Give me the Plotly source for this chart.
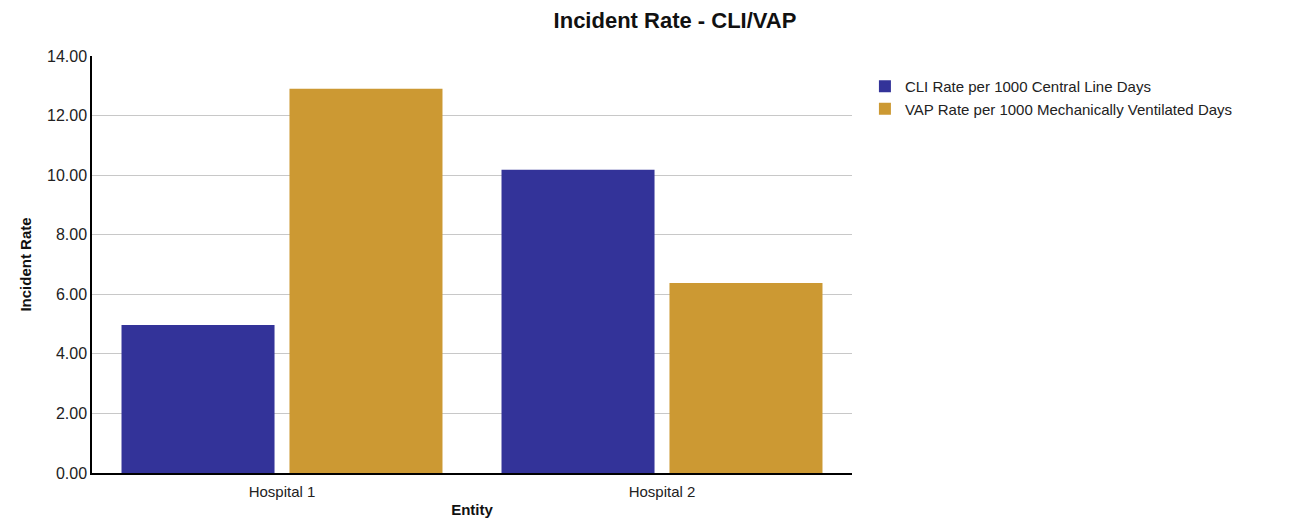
import plotly.graph_objects as go

categories = ["Hospital 1", "Hospital 2"]
cli_rate = [4.97, 10.18]
vap_rate = [12.9, 6.38]
series_names = ["CLI Rate per 1000 Central Line Days", "VAP Rate per 1000 Mechanically Ventilated Days"]
tick_vals = [0, 2, 4, 6, 8, 10, 12, 14]

fig = go.Figure()
fig.add_trace(go.Bar(x=categories, y=cli_rate, name=series_names[0], marker_color="#333399",
                     marker_line_width=0))
fig.add_trace(go.Bar(x=categories, y=vap_rate, name=series_names[1], marker_color="#CC9933",
                     marker_line_width=0))

W, H = 1308, 516
font_family = "Liberation Sans, Arial, sans-serif"
fig.update_layout(
    width=W, height=H,
    margin=dict(l=84, r=464, t=48, b=51),
    paper_bgcolor="white", plot_bgcolor="white",
    barmode="group", bargap=0.116, bargroupgap=0.089,
    title=dict(text="<b>Incident Rate - CLI/VAP</b>", x=667/W, xanchor="center",
               y=1 - 12/H, yanchor="middle",
               font=dict(family=font_family, size=22, color="#111111")),
    font=dict(family=font_family, size=13, color="#222222"),
    legend=dict(x=1.017, xanchor="left", y=1 - 14/417, yanchor="top",
                font=dict(family=font_family, size=15, color="#222222"),
                itemwidth=30, tracegroupgap=0, bgcolor="rgba(0,0,0,0)"),
    xaxis=dict(title=dict(text="<b>Entity</b>", font=dict(size=15, color="#111111"), standoff=6),
               showline=True, linecolor="#000000", linewidth=1.5, ticks="",
               ticklabelstandoff=4, automargin=False,
               tickfont=dict(size=15, color="#222222")),
    yaxis=dict(title=dict(text="<b>Incident Rate</b>", font=dict(size=15, color="#111111"), standoff=12),
               range=[0, 14], tickvals=tick_vals, tickformat=".2f",
               showline=True, linecolor="#000000", linewidth=1.5,
               showgrid=True, gridcolor="#C8C8C8", gridwidth=1, zeroline=False,
               ticks="", ticklen=0, automargin=False,
               tickfont=dict(size=16, color="#222222")),
)
fig.write_html("out.html")
